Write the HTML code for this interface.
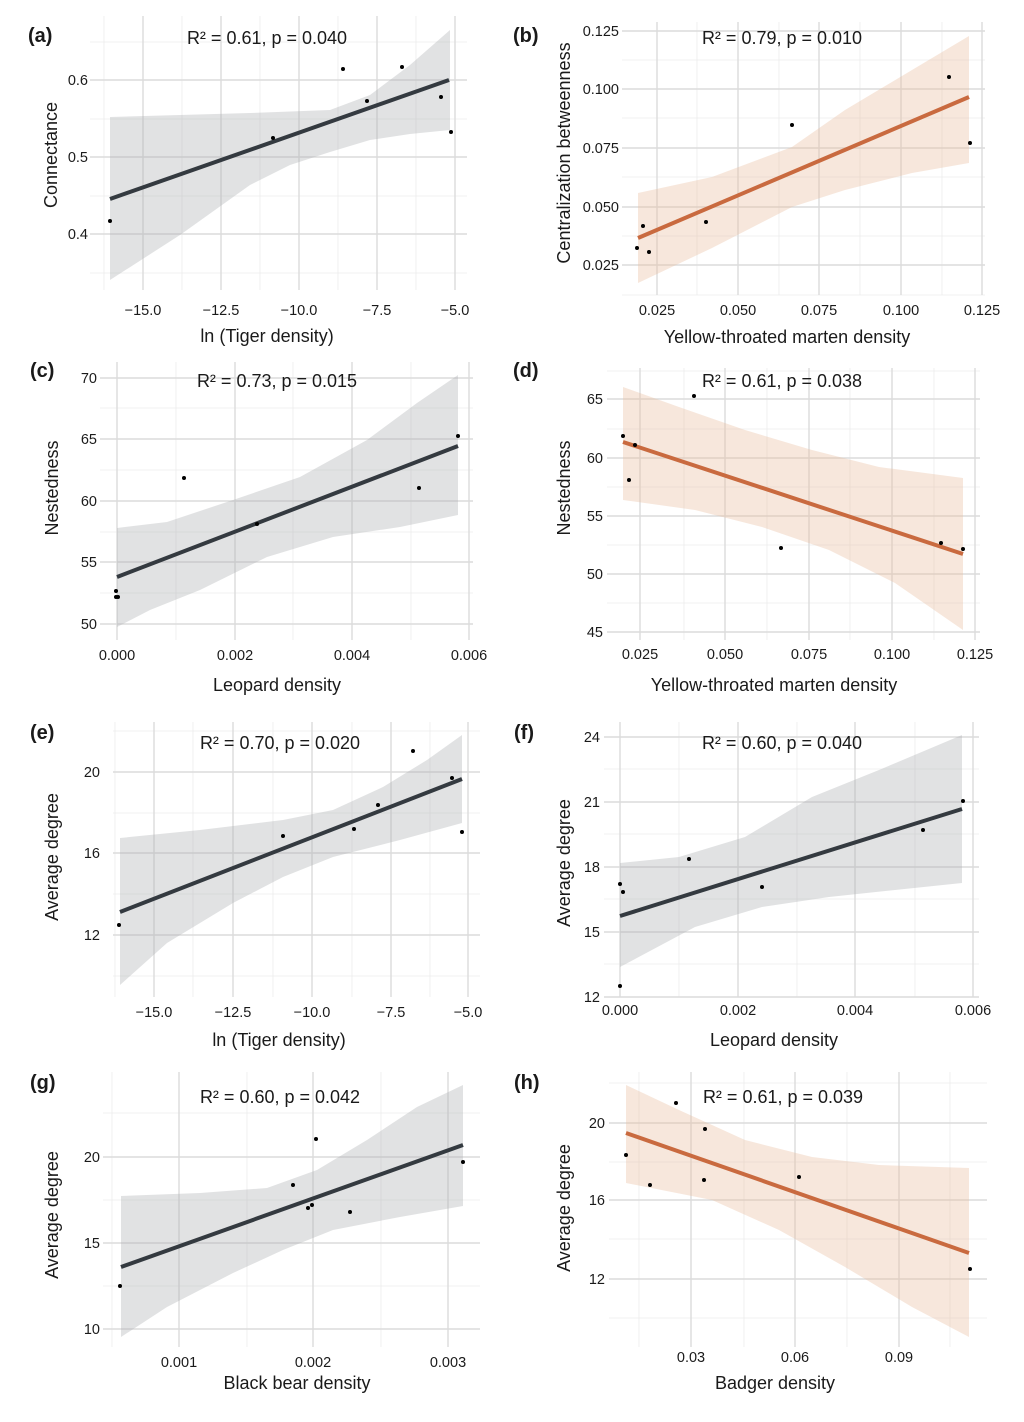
<!DOCTYPE html>
<html><head><meta charset="utf-8"><style>
html,body{margin:0;padding:0;background:#fff}
svg{display:block}
text{font-family:"Liberation Sans",Arial,sans-serif;fill:#1a1a1a}
.tk{font-size:14.5px;fill:#333}
.ti{font-size:18px}
.an{font-size:18px}
.lb{font-size:20px;font-weight:bold}
</style></head><body>
<svg id="s" width="1024" height="1422" viewBox="0 0 1024 1422" xmlns="http://www.w3.org/2000/svg">
<g id="grids"></g>
<g id="bands"></g>
<g id="lines"></g>
<g id="pts"></g>

<!-- (a) -->
<text class="lb" x="28" y="42">(a)</text>
<text class="an" x="267" y="44" text-anchor="middle">R² = 0.61, p = 0.040</text>
<g class="tk" text-anchor="end"><text x="88" y="85">0.6</text><text x="88" y="162">0.5</text><text x="88" y="239">0.4</text></g>
<g class="tk" text-anchor="middle"><text x="143" y="315">−15.0</text><text x="221" y="315">−12.5</text><text x="299" y="315">−10.0</text><text x="377" y="315">−7.5</text><text x="455" y="315">−5.0</text></g>
<text class="ti" x="267" y="342" text-anchor="middle">ln (Tiger density)</text>
<text class="ti" transform="translate(57,155) rotate(-90)" text-anchor="middle">Connectance</text>

<!-- (b) -->
<text class="lb" x="513" y="42">(b)</text>
<text class="an" x="782" y="44" text-anchor="middle">R² = 0.79, p = 0.010</text>
<g class="tk" text-anchor="end"><text x="619" y="36">0.125</text><text x="619" y="94">0.100</text><text x="619" y="153">0.075</text><text x="619" y="212">0.050</text><text x="619" y="270">0.025</text></g>
<g class="tk" text-anchor="middle"><text x="657" y="315">0.025</text><text x="738" y="315">0.050</text><text x="819" y="315">0.075</text><text x="901" y="315">0.100</text><text x="982" y="315">0.125</text></g>
<text class="ti" x="787" y="343" text-anchor="middle">Yellow-throated marten density</text>
<text class="ti" transform="translate(570,153) rotate(-90)" text-anchor="middle">Centralization betweenness</text>

<!-- (c) -->
<text class="lb" x="30" y="377">(c)</text>
<text class="an" x="277" y="387" text-anchor="middle">R² = 0.73, p = 0.015</text>
<g class="tk" text-anchor="end"><text x="97" y="383">70</text><text x="97" y="444">65</text><text x="97" y="506">60</text><text x="97" y="567">55</text><text x="97" y="629">50</text></g>
<g class="tk" text-anchor="middle"><text x="117" y="660">0.000</text><text x="235" y="660">0.002</text><text x="352" y="660">0.004</text><text x="469" y="660">0.006</text></g>
<text class="ti" x="277" y="691" text-anchor="middle">Leopard density</text>
<text class="ti" transform="translate(58,488) rotate(-90)" text-anchor="middle">Nestedness</text>

<!-- (d) -->
<text class="lb" x="513" y="377">(d)</text>
<text class="an" x="782" y="387" text-anchor="middle">R² = 0.61, p = 0.038</text>
<g class="tk" text-anchor="end"><text x="603" y="404">65</text><text x="603" y="463">60</text><text x="603" y="521">55</text><text x="603" y="579">50</text><text x="603" y="637">45</text></g>
<g class="tk" text-anchor="middle"><text x="640" y="659">0.025</text><text x="725" y="659">0.050</text><text x="809" y="659">0.075</text><text x="892" y="659">0.100</text><text x="975" y="659">0.125</text></g>
<text class="ti" x="774" y="691" text-anchor="middle">Yellow-throated marten density</text>
<text class="ti" transform="translate(570,488) rotate(-90)" text-anchor="middle">Nestedness</text>

<!-- (e) -->
<text class="lb" x="30" y="739">(e)</text>
<text class="an" x="280" y="749" text-anchor="middle">R² = 0.70, p = 0.020</text>
<g class="tk" text-anchor="end"><text x="100" y="777">20</text><text x="100" y="858">16</text><text x="100" y="940">12</text></g>
<g class="tk" text-anchor="middle"><text x="154" y="1017">−15.0</text><text x="233" y="1017">−12.5</text><text x="312" y="1017">−10.0</text><text x="391" y="1017">−7.5</text><text x="468" y="1017">−5.0</text></g>
<text class="ti" x="279" y="1046" text-anchor="middle">ln (Tiger density)</text>
<text class="ti" transform="translate(58,857) rotate(-90)" text-anchor="middle">Average degree</text>

<!-- (f) -->
<text class="lb" x="514" y="739">(f)</text>
<text class="an" x="782" y="749" text-anchor="middle">R² = 0.60, p = 0.040</text>
<g class="tk" text-anchor="end"><text x="600" y="742">24</text><text x="600" y="807">21</text><text x="600" y="872">18</text><text x="600" y="937">15</text><text x="600" y="1002">12</text></g>
<g class="tk" text-anchor="middle"><text x="620" y="1015">0.000</text><text x="738" y="1015">0.002</text><text x="855" y="1015">0.004</text><text x="973" y="1015">0.006</text></g>
<text class="ti" x="774" y="1046" text-anchor="middle">Leopard density</text>
<text class="ti" transform="translate(570,863) rotate(-90)" text-anchor="middle">Average degree</text>

<!-- (g) -->
<text class="lb" x="30" y="1089">(g)</text>
<text class="an" x="280" y="1103" text-anchor="middle">R² = 0.60, p = 0.042</text>
<g class="tk" text-anchor="end"><text x="100" y="1162">20</text><text x="100" y="1248">15</text><text x="100" y="1334">10</text></g>
<g class="tk" text-anchor="middle"><text x="179" y="1367">0.001</text><text x="313" y="1367">0.002</text><text x="448" y="1367">0.003</text></g>
<text class="ti" x="297" y="1389" text-anchor="middle">Black bear density</text>
<text class="ti" transform="translate(58,1215) rotate(-90)" text-anchor="middle">Average degree</text>

<!-- (h) -->
<text class="lb" x="514" y="1089">(h)</text>
<text class="an" x="783" y="1103" text-anchor="middle">R² = 0.61, p = 0.039</text>
<g class="tk" text-anchor="end"><text x="605" y="1128">20</text><text x="605" y="1205">16</text><text x="605" y="1284">12</text></g>
<g class="tk" text-anchor="middle"><text x="691" y="1362">0.03</text><text x="795" y="1362">0.06</text><text x="899" y="1362">0.09</text></g>
<text class="ti" x="775" y="1389" text-anchor="middle">Badger density</text>
<text class="ti" transform="translate(570,1208) rotate(-90)" text-anchor="middle">Average degree</text>
</svg>
<script>
var P=[
{x0:90,x1:467,y0:16,y1:290,vM:[143,221,299,377,455],vm:[104,182,260,338,416],hM:[80,157,234],hm:[42,119,196,273],
 L:[110,199,449,80],o:0,pts:[[110,221],[273,138],[343,69],[367,101],[402,67],[441,97],[451,132]],
 up:[[110,117],[180,115],[250,113],[330,110],[370,95],[410,65],[450,30]],lo:[[450,130],[410,134],[370,140],[330,152],[290,165],[250,185],[180,235],[110,280]]},
{x0:622,x1:985,y0:22,y1:295,vM:[657,738,819,901,982],vm:[697,779,860,942],hM:[31,89,148,207,265],hm:[60,118,177,236,295],
 L:[638,238,969,97],o:1,pts:[[637,248],[643,226],[649,252],[706,222],[792,125],[949,77],[970,143]],
 up:[[638,193],[712,177],[792,147],[845,110],[912,70],[969,36]],lo:[[969,163],[912,173],[845,190],[792,207],[712,248],[638,283]]},
{x0:100,x1:473,y0:362,y1:640,vM:[117,235,352,469],vm:[176,293,411],hM:[378,439,501,562,624],hm:[408,470,532,593],
 L:[117,577,458,446],o:0,pts:[[116,591],[116,597],[118,597],[184,478],[257,524],[419,488],[458,436]],
 up:[[117,528],[167,522],[233,500],[300,477],[367,440],[417,403],[458,375]],lo:[[458,515],[400,527],[333,537],[267,557],[200,590],[150,610],[117,627]]},
{x0:607,x1:980,y0:368,y1:640,vM:[640,725,809,892,975],vm:[684,767,850,934],hM:[399,458,516,574,632],hm:[371,429,487,545,603],
 L:[623,442,963,554],o:1,pts:[[623,436],[635,445],[629,480],[694,396],[781,548],[941,543],[963,549]],
 up:[[623,387],[679,407],[745,430],[812,450],[879,467],[963,478]],lo:[[963,630],[895,583],[829,550],[762,527],[695,510],[623,500]]},
{x0:113,x1:480,y0:722,y1:997,vM:[154,233,312,391,468],vm:[115,193,273,352,430],hM:[772,853,935],hm:[731,813,894,976],
 L:[120,912,462,779],o:0,pts:[[119,925],[283,836],[354,829],[378,805],[413,751],[452,778],[462,832]],
 up:[[120,838],[200,830],[283,820],[333,810],[383,787],[427,760],[462,735]],lo:[[462,823],[400,840],[333,857],[283,877],[233,903],[167,943],[120,985]]},
{x0:604,x1:979,y0:722,y1:997,vM:[620,738,855,973],vm:[679,797,915],hM:[737,802,867,932,997],hm:[769,834,899,964],
 L:[620,916,962,809],o:0,pts:[[620,884],[623,892],[620,986],[689,859],[762,887],[923,830],[963,801]],
 up:[[620,863],[679,857],[745,837],[812,797],[879,770],[962,735]],lo:[[962,883],[895,890],[829,897],[762,907],[695,927],[620,967]]},
{x0:103,x1:480,y0:1072,y1:1347,vM:[179,313,448],vm:[112,247,381],hM:[1157,1243,1329],hm:[1113,1200,1286],
 L:[121,1267,463,1145],o:0,pts:[[120,1286],[293,1185],[308,1208],[312,1205],[316,1139],[350,1212],[463,1162]],
 up:[[121,1196],[200,1193],[267,1188],[317,1170],[367,1140],[417,1107],[463,1085]],lo:[[463,1206],[400,1217],[333,1230],[283,1250],[233,1273],[167,1307],[121,1337]]},
{x0:609,x1:987,y0:1072,y1:1347,vM:[691,795,899],vm:[639,744,847,950],hM:[1123,1200,1279],hm:[1083,1162,1239,1318],
 L:[626,1133,969,1253],o:1,pts:[[626,1155],[650,1185],[676,1103],[704,1180],[705,1129],[799,1177],[970,1269]],
 up:[[626,1085],[679,1110],[745,1140],[812,1157],[879,1165],[969,1168]],lo:[[969,1337],[912,1307],[845,1267],[779,1230],[712,1200],[626,1183]]}
];
var NS="http://www.w3.org/2000/svg";
function el(p,t,a){var e=document.createElementNS(NS,t);for(var k in a)e.setAttribute(k,a[k]);document.getElementById(p).appendChild(e);}
P.forEach(function(p){
 p.vm.forEach(function(x){el("grids","line",{x1:x,x2:x,y1:p.y0,y2:p.y1,stroke:"#ececec","stroke-width":0.8});});
 p.hm.forEach(function(y){el("grids","line",{x1:p.x0,x2:p.x1,y1:y,y2:y,stroke:"#ececec","stroke-width":0.8});});
 p.vM.forEach(function(x){el("grids","line",{x1:x,x2:x,y1:p.y0,y2:p.y1,stroke:"#dcdcdc","stroke-width":1.4});});
 p.hM.forEach(function(y){el("grids","line",{x1:p.x0,x2:p.x1,y1:y,y2:y,stroke:"#dcdcdc","stroke-width":1.4});});
 var pts=p.up.concat(p.lo).map(function(q){return q.join(",");}).join(" ");
 el("bands","polygon",{points:pts,fill:p.o?"#e8b99c":"#a8abae","fill-opacity":0.35});
 el("lines","line",{x1:p.L[0],y1:p.L[1],x2:p.L[2],y2:p.L[3],stroke:p.o?"#c96a3f":"#343a40","stroke-width":4});
 p.pts.forEach(function(q){el("pts","circle",{cx:q[0],cy:q[1],r:2,fill:"#000"});});
});
</script>
</body></html>
